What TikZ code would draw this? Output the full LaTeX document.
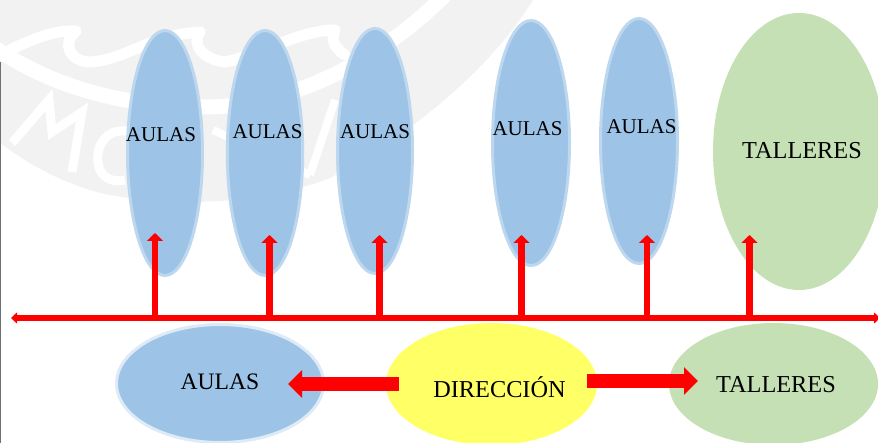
\documentclass[tikz,border=0pt]{standalone}
\usepackage{fontspec}
\setmainfont{Liberation Serif}
\usetikzlibrary{arrows.meta,shapes.geometric}
\definecolor{wm}{HTML}{F2F2F2}
\definecolor{blueF}{HTML}{9DC3E6}
\definecolor{blueS}{HTML}{BDD7EE}
\definecolor{greenF}{HTML}{C5E0B4}
\definecolor{yellowF}{HTML}{FFFF66}
\definecolor{edgeG}{HTML}{6E7073}
\tikzset{
  x=1pt,y=-1pt,
  oval/.style={ellipse,inner sep=0pt,outer sep=0pt},
  aula/.style={oval,fill=blueF,draw=blueS,line width=3pt},
  green oval/.style={oval,fill=greenF},
  yellow oval/.style={oval,fill=yellowF},
  lab/.style={inner sep=0pt,font=\fontsize{21}{21}\selectfont},
  biglab/.style={inner sep=0pt,font=\fontsize{23.6}{24}\selectfont},
  widelab/.style={inner sep=0pt,font=\fontsize{24.3}{25}\selectfont},
  bus/.style={draw=red,line width=5.7pt,{Triangle[width=11pt,length=6pt]}-{Triangle[width=11pt,length=6pt]}},
  riser/.style={draw=red,line width=6.3pt,-{Triangle[width=16pt,length=8pt]}},
  fat/.style={draw=red,line width=14pt,-{Triangle[width=27pt,length=14pt]}},
  wmline/.style={draw=white,line width=8pt,line join=round,line cap=round},
}
\begin{document}
\begin{tikzpicture}
\useasboundingbox (0,0) rectangle (878,443);
\begin{scope}
\clip (0,0) rectangle (878,443);
% watermark
\fill[wm] (0,0) -- (533,0) .. controls (490,70) and (410,135) .. (330,178)
  .. controls (260,205) and (170,208) .. (100,193) .. controls (60,182) and (30,165) .. (0,143) -- cycle;
\draw[wmline,line width=15pt,line cap=butt] (-5,48) .. controls (50,85) and (120,107) .. (205,107)
  .. controls (290,107) and (380,60) .. (445,-5);
\draw[wmline,line width=11pt] (10,50) .. controls (35,38) and (55,30) .. (76,31)
  .. controls (60,45) and (72,62) .. (90,62) .. controls (125,60) and (150,35) .. (200,32)
  .. controls (190,45) and (205,60) .. (225,62) .. controls (260,55) and (300,30) .. (335,30)
  .. controls (330,40) and (335,48) .. (345,55);
\draw[wmline,line width=9pt,line cap=butt,line join=miter] (12,143) -- (49,100) -- (52,132) -- (82,112) -- (72,172);
\draw[wmline,line width=9pt,line cap=butt] (132,132) .. controls (105,125) and (92,150) .. (100,170) .. controls (105,180) and (115,182) .. (125,180);
\draw[wmline,line width=8pt,line cap=butt] (213,130) -- (310,175);
\draw[wmline,line width=8pt,line cap=butt] (335,100) -- (310,175);
% page edge
\fill[edgeG] (0,62) rectangle (1.2,443);
% ovals
\node[aula,minimum width=75pt,minimum height=245pt] (a1) at (165,153) {};
\node[aula,minimum width=75.4pt,minimum height=245pt] (a2) at (265,153) {};
\node[aula,minimum width=75pt,minimum height=245pt] (a3) at (375,151) {};
\node[aula,minimum width=77pt,minimum height=245pt] (a4) at (531,143) {};
\node[aula,minimum width=77pt,minimum height=245pt] (a5) at (639,141) {};
\node[green oval,minimum width=172pt,minimum height=277pt] (t1) at (799,151.5) {};
\node[aula,draw=blueS!50,minimum width=207pt,minimum height=118pt] (a6) at (220,383.5) {};
\node[yellow oval,minimum width=211pt,minimum height=122pt] (d) at (491.5,384) {};
\node[green oval,minimum width=209pt,minimum height=122pt] (t2) at (773.5,384) {};
% labels
\node[lab] (la1) at (161,134.5) {AULAS};
\node[lab] (la2) at (267.5,131.5) {AULAS};
\node[lab] (la3) at (375,131.5) {AULAS};
\node[lab] (la4) at (527.5,128.5) {AULAS};
\node[lab] (la5) at (641.5,126.5) {AULAS};
\node[widelab] (lt1) at (802,151) {TALLERES};
\node[biglab] (la6) at (220,382) {AULAS};
\node[widelab] (ld) at (499.5,387.5) {DIRECCIÓN};
\node[widelab] (lt2) at (776,384.5) {TALLERES};
% connectors
\coordinate (busL) at (11,318);
\coordinate (busR) at (880,318);
\foreach \n/\xx/\yy in {1/155/233,2/269.5/235,3/379.5/235,4/521.5/235,5/647/235,6/749.5/235}{
  \coordinate (j\n) at (\xx,318);
  \coordinate (e\n) at (\xx,\yy);
}
\draw[bus] (busL) -- (busR);
\foreach \n in {1,...,6}{\draw[riser] (j\n) -- (e\n);}
\coordinate (fl0) at (399,384);
\coordinate (fl1) at (288,384);
\coordinate (fr0) at (587,381);
\coordinate (fr1) at (698,381);
\draw[fat] (fl0) -- (fl1);
\draw[fat] (fr0) -- (fr1);
\end{scope}
\end{tikzpicture}
\end{document}
